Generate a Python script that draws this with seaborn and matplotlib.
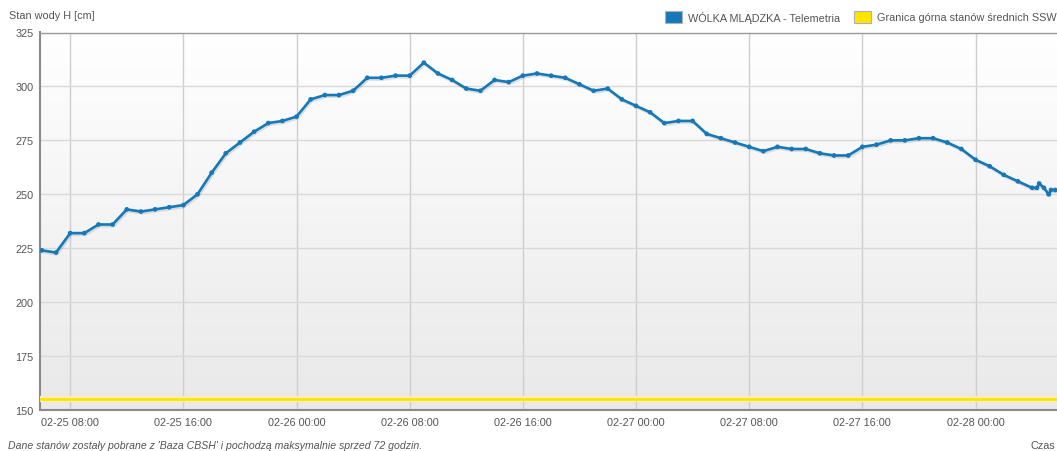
import numpy as np
import pandas as pd
import matplotlib
matplotlib.use("Agg")
import matplotlib.pyplot as plt
import matplotlib.dates as mdates
import matplotlib.patheffects as pe
from matplotlib.patches import Rectangle
from matplotlib.colors import LinearSegmentedColormap
import seaborn as sns

# ---------------- data ----------------
series_name = "WÓLKA MLĄDZKA - Telemetria"
ssw_name = "Granica górna stanów średnich SSW"
y_label = "Stan wody H [cm]"
footer = "Dane stanów zostały pobrane z 'Baza CBSH' i pochodzą maksymalnie sprzed 72 godzin."
x_title = "Czas"

ssw_level = 155

first_hour = "2025-02-25 06:00"
levels_02_25 = [224, 223, 232, 232, 236, 236, 243, 242, 243, 244, 245, 250,
                260, 269, 274, 279, 283, 284]
levels_02_26 = [286, 294, 296, 296, 298, 304, 304, 305, 305, 311, 306, 303,
                299, 298, 303, 302, 305, 306, 305, 304, 301, 298, 299, 294]
levels_02_27 = [291, 288, 283, 284, 284, 278, 276, 274, 272, 270, 272, 271,
                271, 269, 268, 268, 272, 273, 275, 275, 276, 276, 274, 271]
levels_02_28 = [266, 263, 259, 256, 253]
tail_times = ["2025-02-28 04:20", "2025-02-28 04:30", "2025-02-28 04:50",
              "2025-02-28 05:10", "2025-02-28 05:20", "2025-02-28 05:38"]
tail_levels = [253, 255, 253, 250, 252, 252]

x_start = "2025-02-25 05:52"
x_end = "2025-02-28 05:54"
y_ticks = [150, 175, 200, 225, 250, 275, 300, 325]

hourly = levels_02_25 + levels_02_26 + levels_02_27 + levels_02_28
times = pd.date_range(first_hour, periods=len(hourly), freq="h").append(
    pd.to_datetime(tail_times))
df = pd.DataFrame({"time": times, "level": hourly + tail_levels})

# ---------------- style ----------------
sns.set_style("white")
plt.rcParams["font.family"] = ["Liberation Sans", "DejaVu Sans"]

BLUE = "#1578b9"
YELLOW = "#ffe400"
TXT = "#555555"
W, H = 1057, 452

fig = plt.figure(figsize=(W / 100, H / 100), dpi=100)
ax = fig.add_axes([40 / W, 41 / H, 1019 / W, 377.5 / H])

sns.lineplot(data=df, x="time", y="level", ax=ax, color=BLUE, lw=1.9,
             marker="o", markersize=3.4, markeredgewidth=0, zorder=4)
line = ax.lines[-1]
line.set_path_effects([pe.SimpleLineShadow(offset=(0.8, -1.3), shadow_color="k",
                                           alpha=0.11),
                       pe.Normal()])

# SSW limit line
ax.axhline(ssw_level, color="#f6efbc", lw=4.5, zorder=3)
ax.axhline(ssw_level, color=YELLOW, lw=2.0, zorder=3)

# background gradient
cmap = LinearSegmentedColormap.from_list("bg", ["#ffffff", "#e9e9e9"])
ax.imshow(np.linspace(0, 1, 256).reshape(-1, 1), cmap=cmap, aspect="auto",
          extent=[0, 1, 0, 1], transform=ax.transAxes, zorder=-1)

ax.set_xlim(pd.Timestamp(x_start), pd.Timestamp(x_end))
ax.set_ylim(y_ticks[0], y_ticks[-1])
ax.set_yticks(y_ticks)
ax.xaxis.set_major_locator(mdates.HourLocator(byhour=[0, 8, 16]))
ax.xaxis.set_major_formatter(mdates.DateFormatter("%m-%d %H:%M"))

ax.set_axisbelow(True)
ax.grid(True, axis="y", color="#d9d9d9", lw=1)
ax.grid(True, axis="x", color="#cecece", lw=1)
ax.tick_params(length=0, labelsize=7.8, colors=TXT)
ax.tick_params(axis="x", pad=5)
ax.tick_params(axis="y", pad=4.5)
ax.set_xlabel("")
ax.set_ylabel("")

for s in ("left", "bottom"):
    ax.spines[s].set_color("#8a8a8a")
    ax.spines[s].set_linewidth(1.5)
ax.spines["top"].set_color("#9a9a9a")
ax.spines["top"].set_linewidth(1.0)
ax.spines["right"].set_visible(False)

# texts
fig.text(9 / W, 1 - 16 / H, y_label, va="center", ha="left", fontsize=7.8, color=TXT)
fig.text(8 / W, 1 - 446 / H, footer, va="center", ha="left", fontsize=7.6,
         style="italic", color=TXT)
fig.text(1055 / W, 1 - 446 / H, x_title, va="center", ha="right", fontsize=7.8, color=TXT)

# legend
for x0, col, label in [(665, BLUE, series_name), (854, YELLOW, ssw_name)]:
    fig.patches.append(Rectangle((x0 / W, 1 - 24 / H), 17 / W, 12 / H,
                                 transform=fig.transFigure, facecolor=col,
                                 edgecolor="#b0b0b0", lw=0.8))
    fig.text((x0 + 23) / W, 1 - 18 / H, label, va="center", ha="left",
             fontsize=7.8, color=TXT)

fig.savefig("out.png", dpi=100)
